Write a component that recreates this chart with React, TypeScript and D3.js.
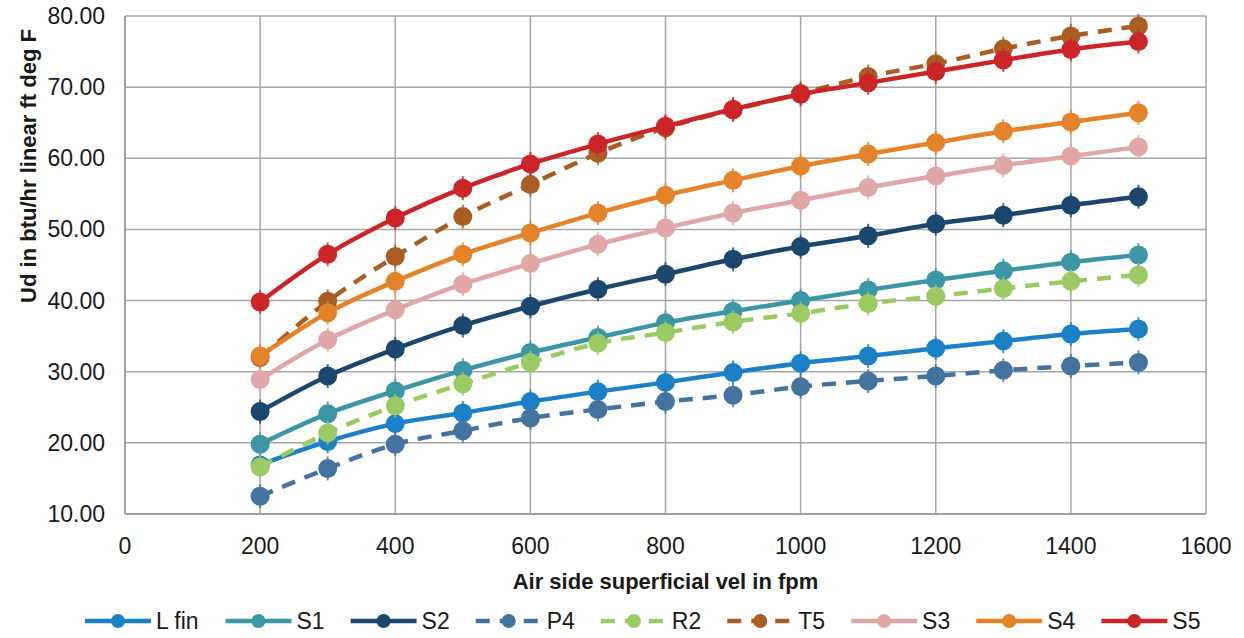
import React from "react";
import * as d3 from "d3";

const velocities = [200, 300, 400, 500, 600, 700, 800, 900, 1000, 1100, 1200, 1300, 1400, 1500];

const seriesNames = ["L fin", "S1", "S2", "P4", "R2", "T5", "S3", "S4", "S5"];
const lFin = [16.9, 20.2, 22.7, 24.2, 25.8, 27.2, 28.5, 29.9, 31.2, 32.2, 33.3, 34.3, 35.3, 36.0];
const s1 = [19.8, 24.1, 27.3, 30.2, 32.7, 34.8, 36.9, 38.5, 40.0, 41.5, 42.9, 44.2, 45.4, 46.4];
const s2 = [24.4, 29.4, 33.2, 36.5, 39.2, 41.6, 43.7, 45.8, 47.6, 49.1, 50.8, 52.0, 53.4, 54.6];
const p4 = [12.5, 16.4, 19.8, 21.7, 23.5, 24.7, 25.8, 26.7, 27.9, 28.7, 29.4, 30.2, 30.8, 31.3];
const r2 = [16.6, 21.4, 25.2, 28.3, 31.3, 34.0, 35.5, 37.0, 38.2, 39.6, 40.6, 41.7, 42.7, 43.6];
const t5 = [32.0, 39.9, 46.2, 51.8, 56.3, 60.7, 64.3, 66.8, 69.1, 71.5, 73.3, 75.4, 77.2, 78.6];
const s3 = [28.9, 34.5, 38.7, 42.3, 45.2, 47.9, 50.2, 52.3, 54.1, 55.9, 57.5, 59.0, 60.3, 61.6];
const s4 = [32.2, 38.3, 42.7, 46.5, 49.5, 52.3, 54.8, 56.9, 58.9, 60.6, 62.2, 63.8, 65.1, 66.4];
const s5 = [39.8, 46.5, 51.6, 55.8, 59.2, 62.0, 64.5, 66.9, 69.0, 70.6, 72.2, 73.8, 75.3, 76.4];

const seriesValues = [lFin, s1, s2, p4, r2, t5, s3, s4, s5];
const seriesColors = ["#1b80c6", "#3b96a6", "#1b476f", "#44739f", "#9acb62", "#a95d23", "#e0a7a7", "#e5832a", "#cb2528"];
const seriesDashed = [false, false, false, true, true, true, false, false, false];

const xTicks = [0, 200, 400, 600, 800, 1000, 1200, 1400, 1600];
const yTicks = [10, 20, 30, 40, 50, 60, 70, 80];

const xTitle = "Air side superficial vel in fpm";
const yTitle = "Ud in btu/hr linear ft deg F";

const FONT = "'Liberation Sans', Arial, Helvetica, sans-serif";

const charW: Record<string, number> = {
  L: 0.556, " ": 0.278, f: 0.278, i: 0.222, n: 0.556, S: 0.667, P: 0.667, R: 0.722, T: 0.611,
};
function textWidth(s: string, size: number) {
  let w = 0;
  for (const c of s) w += charW[c] ?? 0.556;
  return w * size;
}

export default function App() {
  const W = 1244;
  const H = 638;
  const left = 125, right = 1206, top = 16, bottom = 514;
  const x = d3.scaleLinear().domain([0, 1600]).range([left, right]);
  const y = d3.scaleLinear().domain([10, 80]).range([bottom, top]);
  const line = d3
    .line<number>()
    .x((_, i) => x(velocities[i]))
    .y((v) => y(v))
    .curve(d3.curveCatmullRom.alpha(0.5));

  const legendFont = 23;
  const legendItems: { x: number; name: string; color: string; dashed: boolean }[] = [];
  let lx = 85;
  const legendLine = 66;
  seriesNames.forEach((n, i) => {
    legendItems.push({ x: lx, name: n, color: seriesColors[i], dashed: seriesDashed[i] });
    lx += legendLine + 5 + textWidth(n, legendFont) + 26;
  });

  return (
    <svg width={W} height={H} style={{ position: "absolute", left: 0, top: 0, background: "#fff" }}>
      <rect x={0} y={0} width={W} height={H} fill="#fff" />
      {xTicks.map((t) => (
        <line key={"gx" + t} x1={x(t)} x2={x(t)} y1={top} y2={bottom} stroke="#a6a6a6" strokeWidth={1.5} />
      ))}
      {yTicks.map((t) => (
        <line key={"gy" + t} x1={left} x2={right} y1={y(t)} y2={y(t)} stroke="#a6a6a6" strokeWidth={1.5} />
      ))}
      <line x1={left} x2={left} y1={top} y2={bottom} stroke="#a0a0a0" strokeWidth={2} />
      <line x1={left} x2={right} y1={bottom} y2={bottom} stroke="#a0a0a0" strokeWidth={2} />

      {xTicks.map((t) => (
        <text key={"tx" + t} x={x(t)} y={554} textAnchor="middle" fontFamily={FONT} fontSize={23} fill="#1a1a1a">
          {t}
        </text>
      ))}
      {yTicks.map((t) => (
        <text key={"ty" + t} x={105} y={y(t) + 8} textAnchor="end" fontFamily={FONT} fontSize={23} fill="#1a1a1a">
          {t.toFixed(2)}
        </text>
      ))}

      <text x={(left + right) / 2} y={589} textAnchor="middle" fontFamily={FONT} fontWeight="bold" fontSize={22} fill="#1a1a1a">
        {xTitle}
      </text>
      <text
        transform={`translate(36, ${166}) rotate(-90)`}
        textAnchor="middle"
        fontFamily={FONT}
        fontWeight="bold"
        fontSize={22}
        fill="#1a1a1a"
      >
        {yTitle}
      </text>

      {seriesValues.map((vals, si) => (
        <g key={"s" + si}>
          <path
            d={line(vals) || ""}
            fill="none"
            stroke={seriesColors[si]}
            strokeWidth={4.5}
            strokeDasharray={seriesDashed[si] ? "14,10" : undefined}
            strokeLinejoin="round"
          />
          {vals.map((v, i) => (
            <g key={i}>
              <line
                x1={x(velocities[i])}
                x2={x(velocities[i])}
                y1={y(v) - 12}
                y2={y(v) + 12}
                stroke={seriesColors[si]}
                strokeWidth={2}
                opacity={0.8}
              />
              <circle cx={x(velocities[i])} cy={y(v)} r={9.5} fill={seriesColors[si]} />
            </g>
          ))}
        </g>
      ))}

      {legendItems.map((it) => (
        <g key={it.name}>
          <line
            x1={it.x}
            x2={it.x + legendLine}
            y1={621}
            y2={621}
            stroke={it.color}
            strokeWidth={4.5}
            strokeDasharray={it.dashed ? "14,10" : undefined}
          />
          <circle cx={it.x + legendLine / 2} cy={621} r={7} fill={it.color} />
          <text x={it.x + legendLine + 5} y={629} fontFamily={FONT} fontSize={legendFont} fill="#1a1a1a">
            {it.name}
          </text>
        </g>
      ))}
    </svg>
  );
}
